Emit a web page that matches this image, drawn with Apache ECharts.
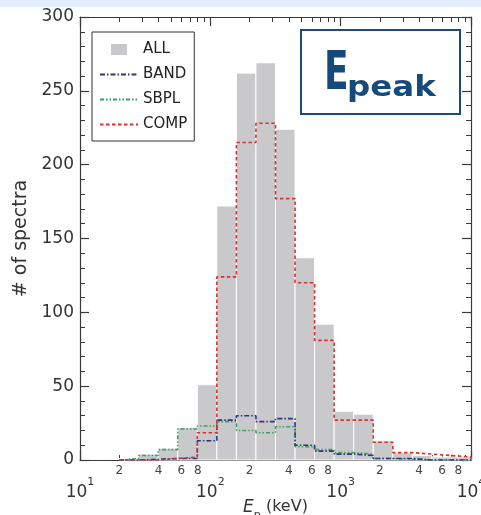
<!DOCTYPE html>
<html><head><meta charset="utf-8">
<script src="https://cdn.jsdelivr.net/npm/echarts@6/dist/echarts.min.js"></script>
<style>html,body{margin:0;padding:0;background:#fff}#c{width:481px;height:515px}</style>
</head><body><div id="c"></div>
<script>
// log10(E_p / keV) lower edges of the histogram bins
const binLo = [1.30,1.45,1.60,1.75,1.90,2.05,2.20,2.35,2.50,2.65,2.80,2.95,3.10,3.25,3.40,3.55,3.70,3.85];
const binWidth = 0.15;
const allCounts  = [1,4,8,22,51,172,262,269,224,137,92,33,31,13,5,3,2,2];
const bandCounts = [0,0.5,1,1,13,27,30,26,28,10,6,4,3,1,1,0,0,0];
const sbplCounts = [1,3,7,21,23,26,20,18.5,22.5,9,7,5,4,1,0.5,0,0,0];
const compCounts = [0,0,1,2,18.5,124,215,228,177,120,81,27,27,12,5,4,3,2];
const decadeExps = [1,2,3,4];
const minorDigits = [2,3,4,5,6,7,8,9];
const minorLabelDigits = [2,4,6,8];
const yMin = 0, yMax = 300, yStep = 50;

const FONT = 'DejaVu Sans';
const AX = '#3a3a3a';
const minorTickVals = [], minorLabelVals = [];
decadeExps.slice(0, -1).forEach(e => {
  minorDigits.forEach(d => minorTickVals.push(e + Math.log10(d)));
  minorLabelDigits.forEach(d => minorLabelVals.push(e + Math.log10(d)));
});

function stepData(counts) {
  const pts = [[binLo[0], 0]];
  counts.forEach((v, i) => pts.push([binLo[i], v]));
  const end = binLo[binLo.length - 1] + binWidth;
  pts.push([end, counts[counts.length - 1]]);
  pts.push([end, 0]);
  return pts;
}

const baseX = {
  type: 'value', min: decadeExps[0], max: decadeExps[decadeExps.length - 1],
  splitLine: { show: false },
  axisLine: { show: true, onZero: false, lineStyle: { color: AX, width: 1.2 } }
};
const xAxes = [
  Object.assign({}, baseX, {
    position: 'bottom',
    axisTick: { show: true, inside: true, length: 9, customValues: decadeExps, lineStyle: { color: AX, width: 1.2 } },
    axisLabel: {
      customValues: decadeExps, margin: 17, color: '#333',
      formatter: v => '{b|10}{s|' + Math.round(v) + '}',
      rich: {
        b: { fontSize: 17, fontFamily: FONT, color: '#333', lineHeight: 24, verticalAlign: 'bottom' },
        s: { fontSize: 11, fontFamily: FONT, color: '#333', lineHeight: 24, verticalAlign: 'top' }
      }
    },
    name: '{i|E}{sub|p}{t| (keV)}', nameLocation: 'middle', nameGap: 39, nameMoveOverlap: false,
    nameTextStyle: {
      rich: {
        i: { fontSize: 17, fontFamily: FONT, fontStyle: 'italic', color: '#333', lineHeight: 22, verticalAlign: 'top' },
        sub: { fontSize: 11, fontFamily: FONT, color: '#333', lineHeight: 22, verticalAlign: 'bottom' },
        t: { fontSize: 16, fontFamily: FONT, color: '#333', lineHeight: 22, verticalAlign: 'top' }
      }
    }
  }),
  Object.assign({}, baseX, {
    position: 'bottom',
    axisLine: { show: false, onZero: false },
    axisTick: { show: true, inside: true, length: 5, customValues: minorTickVals, lineStyle: { color: AX, width: 1 } },
    axisLabel: {
      customValues: minorLabelVals, margin: 5, color: '#444', fontSize: 12, fontFamily: FONT,
      formatter: v => String(Math.round(Math.pow(10, v - Math.floor(v))))
    }
  }),
  Object.assign({}, baseX, {
    position: 'top',
    axisTick: { show: true, inside: true, length: 9, customValues: decadeExps, lineStyle: { color: AX, width: 1.2 } },
    axisLabel: { show: false }
  }),
  Object.assign({}, baseX, {
    position: 'top',
    axisLine: { show: false, onZero: false },
    axisTick: { show: true, inside: true, length: 5, customValues: minorTickVals, lineStyle: { color: AX, width: 1 } },
    axisLabel: { show: false }
  })
];

const baseY = {
  type: 'value', min: yMin, max: yMax, interval: yStep,
  splitLine: { show: false },
  axisLine: { show: true, onZero: false, lineStyle: { color: AX, width: 1.2 } },
  axisTick: { show: true, inside: true, length: 9, lineStyle: { color: AX, width: 1.2 } },
  minorTick: { show: true, splitNumber: 5, length: 5, lineStyle: { color: AX, width: 1 } }
};
const yAxes = [
  Object.assign({}, baseY, {
    position: 'left',
    axisLabel: { margin: 6, fontSize: 17, fontFamily: FONT, color: '#333' },
    name: '# of spectra', nameLocation: 'middle', nameGap: 45,
    nameTextStyle: { fontSize: 19, fontFamily: FONT, color: '#333' }
  }),
  Object.assign({}, baseY, { position: 'right', axisLabel: { show: false } })
];

const lineSeries = (name, counts, color, dash, z) => ({
  name, type: 'line', xAxisIndex: 0, yAxisIndex: 0, step: 'end',
  symbol: 'none', data: stepData(counts), z,
  lineStyle: { color, width: 1.6, type: dash }, itemStyle: { color },
  emphasis: { disabled: true }, animation: false
});

const option = {
  backgroundColor: '#ffffff',
  animation: false,
  grid: { left: 80, right: 10, top: 17, bottom: 55, containLabel: false, outerBoundsMode: 'none' },
  xAxis: xAxes,
  yAxis: yAxes,
  legend: {
    orient: 'vertical', left: 92, top: 32,
    padding: [10, 7, 9, 7], itemGap: 10, itemWidth: 38, itemHeight: 11,
    borderColor: '#333', borderWidth: 1, backgroundColor: '#fff',
    textStyle: { fontSize: 15, fontFamily: FONT, color: '#222', lineHeight: 15 },
    data: [
      { name: 'ALL', icon: 'path://M0,0H16V11H0Z' },
      { name: 'BAND', itemStyle: { opacity: 0 } },
      { name: 'SBPL', itemStyle: { opacity: 0 } },
      { name: 'COMP', itemStyle: { opacity: 0 } }
    ],
    selectedMode: false
  },
  graphic: [
    { type: 'rect', shape: { x: 0, y: 0, width: 481, height: 7 }, style: { fill: '#e2eef9' }, z: 0 },
    { type: 'rect', shape: { x: 301, y: 30, width: 159, height: 84 }, style: { fill: '#fff', stroke: '#1b4b7b', lineWidth: 2 }, z: 10 },
    { type: 'text', x: 324, y: 75, scaleX: 0.68, style: { x: 0, y: 0, text: 'E', fill: '#174a7c', font: 'bold 53px "DejaVu Sans"', textAlign: 'left', textVerticalAlign: 'middle' }, z: 11 },
    { type: 'text', x: 347, y: 88, scaleX: 1.12, style: { x: 0, y: 0, text: 'peak', fill: '#174a7c', font: 'bold 29px "DejaVu Sans"', textAlign: 'left', textVerticalAlign: 'middle' }, z: 11 }
  ],
  series: [
    {
      name: 'ALL', type: 'custom', xAxisIndex: 0, yAxisIndex: 0, z: 1,
      itemStyle: { color: '#c9c9cc' },
      encode: { x: [0, 1], y: 2 },
      data: binLo.map((lo, i) => [lo, lo + binWidth, allCounts[i]]),
      renderItem: (params, api) => {
        const p0 = api.coord([api.value(0), api.value(2)]);
        const p1 = api.coord([api.value(1), 0]);
        return {
          type: 'rect',
          shape: { x: p0[0], y: p0[1], width: p1[0] - p0[0], height: p1[1] - p0[1] },
          style: { fill: '#c9c9cc', stroke: '#ffffff', lineWidth: 1 }
        };
      }
    },
    lineSeries('SBPL', sbplCounts, '#3aa35a', [4, 2, 1.5, 2, 1.5, 2], 3),
    lineSeries('BAND', bandCounts, '#2d3580', [5, 2, 1.5, 2], 4),
    lineSeries('COMP', compCounts, '#d8322f', [3.5, 2.5], 5)
  ]
};
const chart = echarts.init(document.getElementById('c'), null, { renderer: 'canvas' });
chart.setOption(option);
</script>
</body></html>
